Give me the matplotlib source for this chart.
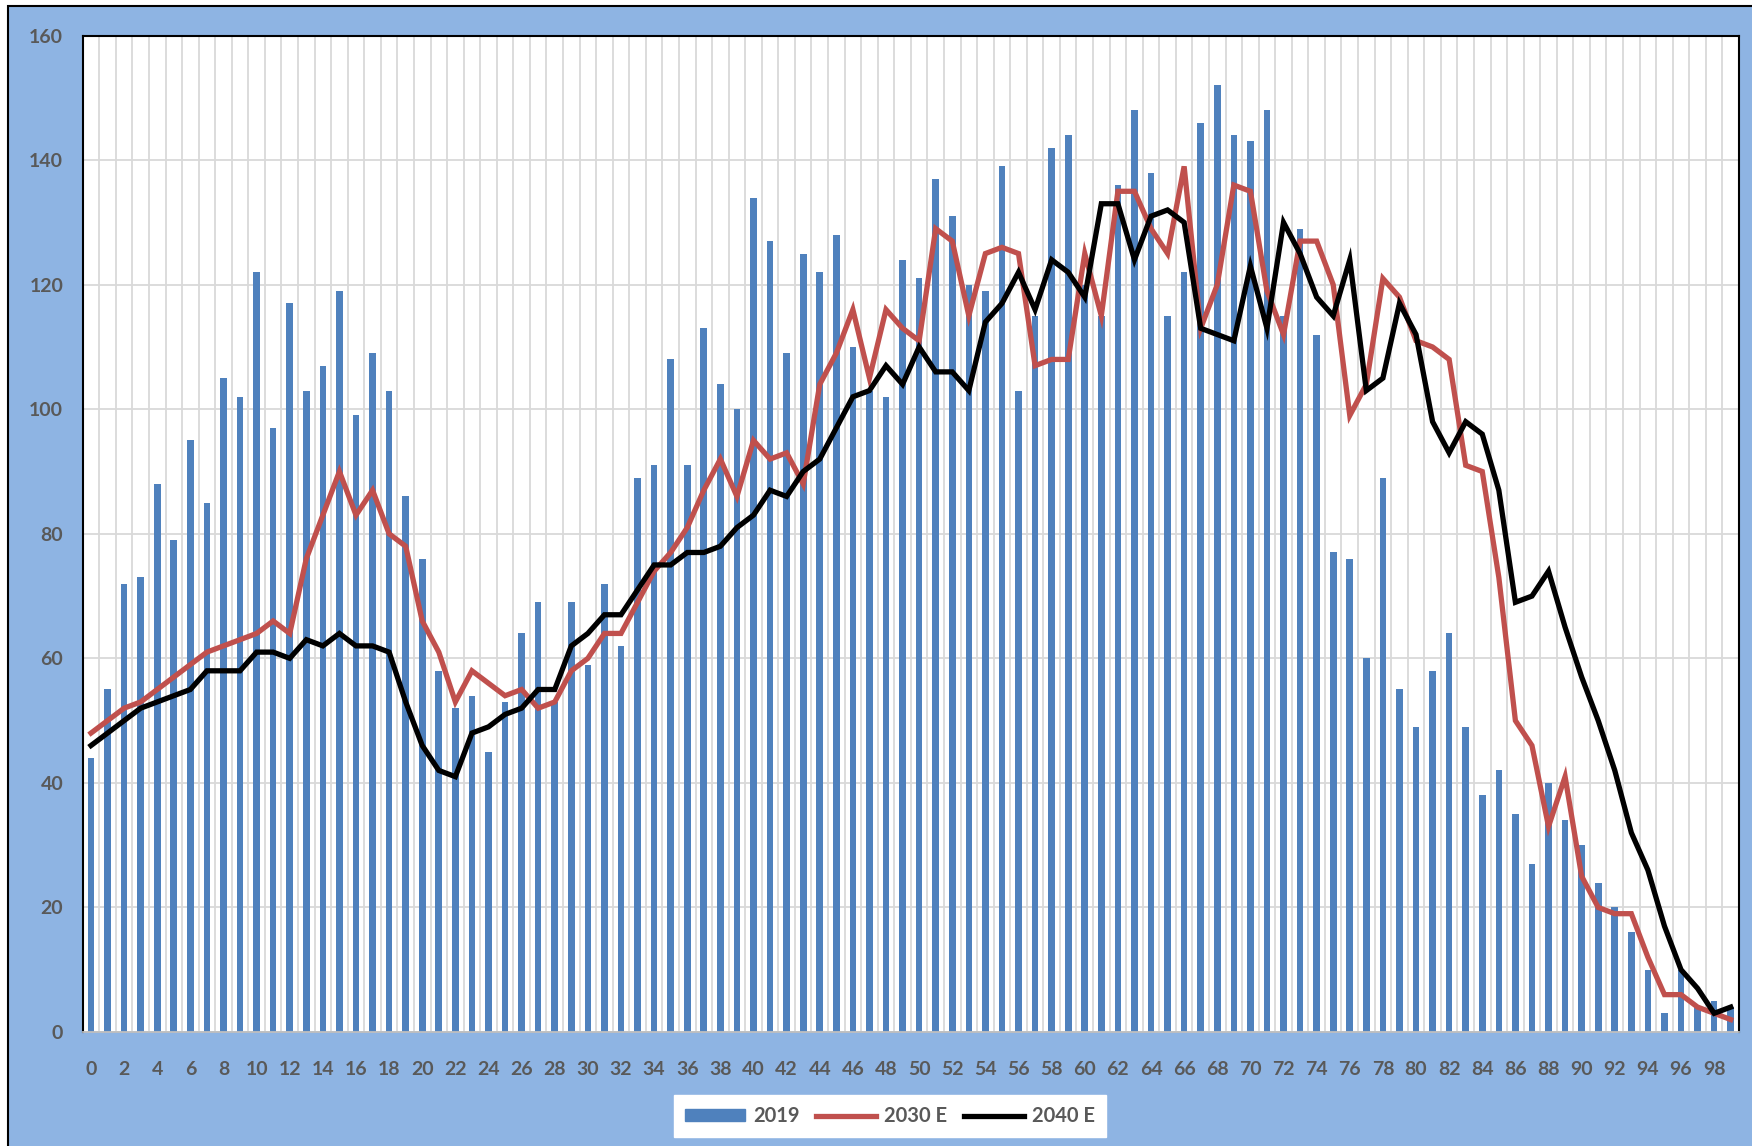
import numpy as np
import matplotlib
matplotlib.use("Agg")
import matplotlib.pyplot as plt
from matplotlib.patches import Rectangle, Patch
from matplotlib.lines import Line2D

plt.rcParams['font.family'] = ['Lato', 'DejaVu Sans']

# === data ===
ages = list(range(100))

pop_2019 = [44, 55, 72, 73, 88, 79, 95, 85, 105, 102,
            122, 97, 117, 103, 107, 119, 99, 109, 103, 86,
            76, 58, 52, 54, 45, 53, 64, 69, 53, 69,
            59, 72, 62, 89, 91, 108, 91, 113, 104, 100,
            134, 127, 109, 125, 122, 128, 110, 103, 102, 124,
            121, 137, 131, 120, 119, 139, 103, 115, 142, 144,
            120, 115, 136, 148, 138, 115, 122, 146, 152, 144,
            143, 148, 115, 129, 112, 77, 76, 60, 89, 55,
            49, 58, 64, 49, 38, 42, 35, 27, 40, 34,
            30, 24, 20, 16, 10, 3, 10, 4, 5, 4]

pop_2030 = [48, 50, 52, 53, 55, 57, 59, 61, 62, 63,
            64, 66, 64, 76, 83, 90, 83, 87, 80, 78,
            66, 61, 53, 58, 56, 54, 55, 52, 53, 58,
            60, 64, 64, 69, 74, 77, 81, 87, 92, 86,
            95, 92, 93, 88, 104, 109, 116, 105, 116, 113,
            111, 129, 127, 115, 125, 126, 125, 107, 108, 108,
            125, 115, 135, 135, 129, 125, 139, 113, 120, 136,
            135, 119, 112, 127, 127, 120, 99, 104, 121, 118,
            111, 110, 108, 91, 90, 73, 50, 46, 33, 41,
            25, 20, 19, 19, 12, 6, 6, 4, 3, 2]

pop_2040 = [46, 48, 50, 52, 53, 54, 55, 58, 58, 58,
            61, 61, 60, 63, 62, 64, 62, 62, 61, 53,
            46, 42, 41, 48, 49, 51, 52, 55, 55, 62,
            64, 67, 67, 71, 75, 75, 77, 77, 78, 81,
            83, 87, 86, 90, 92, 97, 102, 103, 107, 104,
            110, 106, 106, 103, 114, 117, 122, 116, 124, 122,
            118, 133, 133, 124, 131, 132, 130, 113, 112, 111,
            123, 113, 130, 125, 118, 115, 124, 103, 105, 117,
            112, 98, 93, 98, 96, 87, 69, 70, 74, 65,
            57, 50, 42, 32, 26, 17, 10, 7, 3, 4]

series_labels = ["2019", "2030 E", "2040 E"]
y_ticks = [0, 20, 40, 60, 80, 100, 120, 140, 160]

BLUE = "#4F81BD"
RED = "#C0504D"
TXT = "#595959"
GRID = "#D9D9D9"
BG = "#8EB4E3"

W, H = 1752, 1146
fig = plt.figure(figsize=(W / 100, H / 100), dpi=100)
fig.patch.set_facecolor("white")

# blue chart frame with black border (cropped at right/bottom)
frame = Rectangle((8 / W, -0.05), 1.2, 1 - 6 / H + 0.05,
                  transform=fig.transFigure, facecolor=BG,
                  edgecolor="black", lw=1.5, zorder=-10)
fig.patches.append(frame)

ax = fig.add_axes([82.7 / W, (H - 1032) / H, (1739 - 82.7) / W, (1032 - 35.6) / H])
ax.set_facecolor("white")

x = np.array(ages)
ax.bar(x, pop_2019, width=0.4, color=BLUE, zorder=2)
ax.plot(x, pop_2030, color=RED, lw=3.8, zorder=3, solid_joinstyle="miter")
ax.plot(x, pop_2040, color="black", lw=3.8, zorder=4, solid_joinstyle="miter")

ax.set_xlim(-0.5, 99.5)
ax.set_ylim(0, 160)

ax.set_yticks(y_ticks)
ax.set_xticks(x[::2])
ax.set_xticks(np.arange(-0.5, 100, 1), minor=True)
ax.set_xticklabels([str(a) for a in ages[::2]])
ax.tick_params(axis="both", length=0, colors=TXT, labelsize=14)
ax.tick_params(axis="x", which="minor", length=0)
ax.tick_params(axis="x", pad=21)
ax.tick_params(axis="y", pad=14)
for lab in ax.get_xticklabels() + ax.get_yticklabels():
    lab.set_fontweight("bold")

ax.grid(axis="y", color=GRID, lw=1.3, zorder=0)
ax.grid(axis="x", which="minor", color=GRID, lw=1.3, zorder=0)
ax.grid(axis="x", which="major", visible=False)
ax.set_axisbelow(True)

for side in ["left", "top", "right"]:
    ax.spines[side].set_color("black")
    ax.spines[side].set_linewidth(1.5)
ax.spines["bottom"].set_color("#BFBFBF")
ax.spines["bottom"].set_linewidth(1.3)

handles = [Patch(facecolor=BLUE, edgecolor=BLUE),
           Line2D([0], [0], color=RED, lw=3.8),
           Line2D([0], [0], color="black", lw=3.8)]
leg = fig.legend(handles, series_labels, loc="center", bbox_to_anchor=(890 / W, 30 / H),
                 ncol=3, frameon=True, fancybox=False, framealpha=1,
                 edgecolor="white", facecolor="white", handlelength=3.0,
                 handleheight=0.5, columnspacing=0.8, handletextpad=0.4,
                 borderpad=0.55, borderaxespad=0, prop={"size": 14.5, "weight": "bold"})
leg.set_zorder(5)
for t in leg.get_texts():
    t.set_color(TXT)

fig.savefig("out.png", dpi=100)
